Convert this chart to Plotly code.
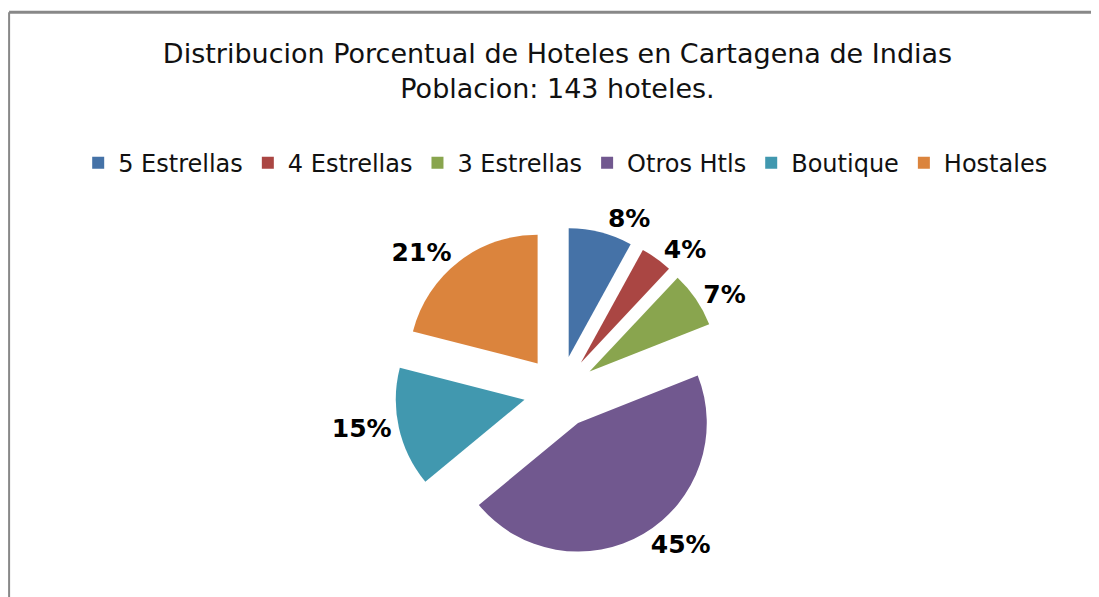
import plotly.graph_objects as go

categorias = ["5 Estrellas", "4 Estrellas", "3 Estrellas", "Otros Htls", "Boutique", "Hostales"]
porcentajes = [8, 4, 7, 45, 15, 21]
colores = ["#4572A7", "#AA4643", "#89A54E", "#71588F", "#4198AF", "#DB843D"]

fig = go.Figure(
    go.Pie(
        labels=categorias,
        values=porcentajes,
        sort=False,
        direction="clockwise",
        rotation=0,
        pull=[0.28] * len(porcentajes),
        marker=dict(colors=colores),
        textposition="outside",
        texttemplate="<b>%{value}%</b>",
        outsidetextfont=dict(family="DejaVu Sans", size=25, color="black"),
        hoverinfo="label+percent",
        domain=dict(x=[0.202, 0.802], y=[0.081, 0.633]),
    )
)

fig.update_layout(
    width=1099,
    height=597,
    margin=dict(l=0, r=0, t=0, b=0, autoexpand=False),
    paper_bgcolor="white",
    title=dict(
        text="Distribucion Porcentual de Hoteles en Cartagena de Indias<br>Poblacion: 143 hoteles.",
        x=0.5,
        xanchor="center",
        y=0.908,
        yanchor="top",
        font=dict(family="DejaVu Sans", size=27, color="#111111"),
    ),
    legend=dict(
        orientation="h",
        x=0.507,
        xanchor="center",
        y=0.74,
        yanchor="middle",
        font=dict(family="DejaVu Sans", size=24, color="#111111"),
        traceorder="normal",
        itemwidth=30,
    ),
    shapes=[
        dict(type="line", xref="paper", yref="paper", x0=0.001, x1=1.0, y0=0.993, y1=0.993,
             line=dict(color="#888888", width=3)),
        dict(type="line", xref="paper", yref="paper", x0=0.001, x1=0.001, y0=0.0, y1=0.993,
             line=dict(color="#888888", width=2)),
    ],
)

fig.write_html("out.html")
